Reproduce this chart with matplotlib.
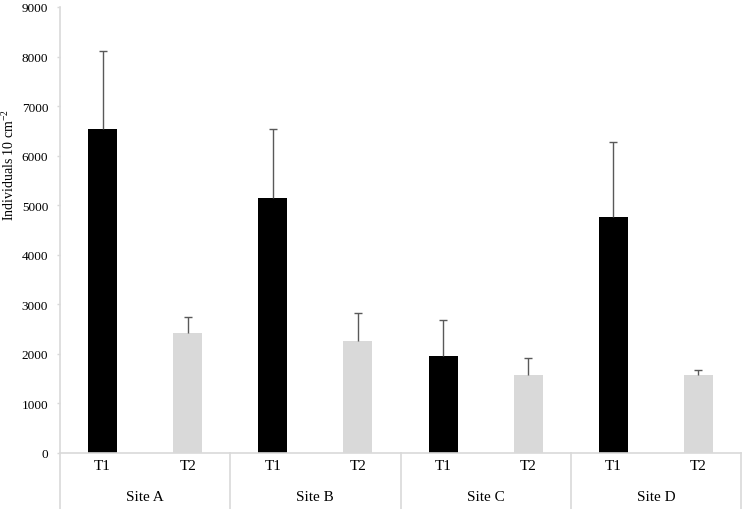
import matplotlib.pyplot as plt
import matplotlib.transforms as mtransforms
import numpy as np

# Values
sites = ['Site A', 'Site B', 'Site C', 'Site D']
treatments = ['T1', 'T2']
means = [6540, 2420, 5155, 2265, 1955, 1565, 4760, 1570]
upper_err = [1565, 315, 1390, 570, 720, 360, 1525, 95]

plt.rcParams['font.family'] = ['Liberation Serif', 'DejaVu Serif']
plt.rcParams['mathtext.fontset'] = 'custom'
plt.rcParams['mathtext.rm'] = 'Liberation Serif'
plt.rcParams['mathtext.it'] = 'Liberation Serif:italic'

fig = plt.figure(figsize=(7.43, 5.10), dpi=100)
ax = fig.add_axes([60 / 743, 56 / 510, 681 / 743, 446 / 510])

x = np.arange(len(means))
colors = ['black' if i % 2 == 0 else '#d9d9d9' for i in range(len(means))]
ax.bar(x, means, width=0.34, color=colors, zorder=2)
eb = ax.errorbar(x, means, yerr=[np.zeros(len(means)), upper_err], fmt='none',
                 ecolor='#595959', elinewidth=1, capsize=2.7, capthick=1,
                 zorder=3)
# only the upper cap is drawn
eb[1][0].set_visible(False)

ax.set_xlim(-0.5, len(means) - 0.5)
ax.set_ylim(0, 9000)
ax.set_yticks(np.arange(0, 9001, 1000))
ax.tick_params(axis='y', length=2.5, width=1, color='#d9d9d9', pad=6,
               labelsize=9.5)
ax.set_xticks(x)
ax.set_xticklabels(treatments * len(sites), fontsize=11)
ax.tick_params(axis='x', length=0, pad=4)

for s in ['top', 'right']:
    ax.spines[s].set_visible(False)
for s in ['left', 'bottom']:
    ax.spines[s].set_color('#d9d9d9')
    ax.spines[s].set_linewidth(1.2)

ax.set_ylabel(r'Individuals 10 cm$^{-2}$', fontsize=10)
ax.yaxis.set_label_coords(-0.063, 0.648)

# Site labels and separators below the axis
trans = mtransforms.blended_transform_factory(ax.transData, ax.transAxes)
for i, site in enumerate(sites):
    ax.text(2 * i + 0.5, -44 / 446, site, transform=trans, ha='center',
            va='center', fontsize=11)
for b in np.arange(-0.5, len(means), 2):
    ax.plot([b, b], [0, -56 / 446], transform=trans, color='#d9d9d9',
            lw=1.2, clip_on=False)

fig.savefig('out.png', dpi=100)
